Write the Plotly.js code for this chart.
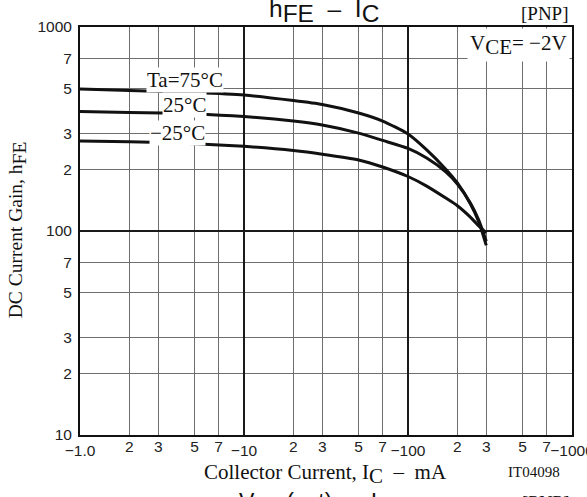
<!DOCTYPE html>
<html>
<head>
<meta charset="utf-8">
<script src="https://cdn.plot.ly/plotly-3.0.1.min.js"></script>
<style>html,body{margin:0;padding:0;background:#fff;}#chart{width:587px;height:497px;}</style>
</head>
<body>
<div id="chart"></div>
<script>
// Collector current (mA, magnitude) sample points
const current = [1, 2, 5, 10, 20, 30, 50, 70, 100, 130, 170, 200, 240, 270, 300];
// DC current gain hFE
const hfe75  = [497, 488, 477, 464, 436, 417, 379, 346, 299, 250, 201, 172, 136, 111, 85];
const hfe25  = [385, 381, 375, 364, 346, 331, 302, 278, 254, 228, 195, 170, 137, 113, 89];
const hfeM25 = [276, 274, 268, 260, 248, 238, 223, 206, 185, 166, 145, 133, 117, 106, 98];
const seriesNames = ['Ta=75°C', '25°C', '−25°C'];

// Axis ticks
const xMinorVals = [2,3,5,7,20,30,50,70,200,300,500,700];
const xMinorText = ['2','3','5','7','2','3','5','7','2','3','5','7'];
const xDecadeVals = [1,10,100,1000];
const xDecadeText = ['−1.0','−10','−100','−1000'];
const yTickVals = [10,20,30,50,70,100,200,300,500,700,1000];
const yTickText = ['10','2','3','5','7','100','2','3','5','7','1000'];
const yDecadeVals = [100];

const SANS = 'Liberation Sans, Arial, sans-serif';
const SERIF = 'Liberation Serif, Times New Roman, serif';
const lineStyle = {color:'#111', width:3, shape:'spline', smoothing:0.6};
const sub = (t, s) => '<sub><span style="font-size:' + s + 'px">' + t + '</span></sub>';

const traces = [
  {x: current, y: hfe75, name: seriesNames[0], mode:'lines', line: lineStyle, xaxis:'x', yaxis:'y', hoverinfo:'skip'},
  {x: current, y: hfe25, name: seriesNames[1], mode:'lines', line: lineStyle, xaxis:'x', yaxis:'y', hoverinfo:'skip'},
  {x: current, y: hfeM25, name: seriesNames[2], mode:'lines', line: lineStyle, xaxis:'x2', yaxis:'y2', hoverinfo:'skip'}
];

const ann = (o) => Object.assign({showarrow:false, xref:'paper', yref:'paper'}, o);

const layout = {
  width: 587, height: 497,
  margin: {l:80, r:15, t:27, b:62, pad:0},
  paper_bgcolor:'#fff', plot_bgcolor:'#fff',
  showlegend:false,
  xaxis: {
    type:'log', range:[0,3], tickmode:'array', tickvals:xMinorVals, ticktext:xMinorText,
    showgrid:true, gridcolor:'#6e6e6e', gridwidth:1, ticks:'', ticklabelstandoff:-4,
    showline:true, mirror:true, linecolor:'#111', linewidth:2, zeroline:false,
    tickfont:{family:SANS, size:15.5, color:'#222'}
  },
  xaxis2: {
    type:'log', range:[0,3], overlaying:'x', anchor:'y2', side:'bottom', tickmode:'array',
    tickvals:xDecadeVals, ticktext:xDecadeText, ticklabeloverflow:'allow',
    showgrid:true, gridcolor:'#1a1a1a', gridwidth:1.5, ticks:'', ticklabelstandoff:4,
    showline:false, zeroline:false,
    tickfont:{family:SANS, size:15.5, color:'#222'}
  },
  yaxis: {
    type:'log', range:[1,3], tickmode:'array', tickvals:yTickVals, ticktext:yTickText,
    showgrid:true, gridcolor:'#6e6e6e', gridwidth:1, ticks:'', ticklabelstandoff:3,
    showline:true, mirror:true, linecolor:'#111', linewidth:2, zeroline:false,
    tickfont:{family:SANS, size:15.5, color:'#222'}
  },
  yaxis2: {
    type:'log', range:[1,3], overlaying:'y', anchor:'x2', side:'left', tickmode:'array',
    tickvals:yDecadeVals, showticklabels:false,
    showgrid:true, gridcolor:'#1a1a1a', gridwidth:1.5, ticks:'', showline:false, zeroline:false
  },
  annotations: [
    ann({x:0.496, y:1.0417, xanchor:'center', yanchor:'middle', yshift:-1,
         text:'h' + sub('FE', 24.5) + '  –  I' + sub('C', 24.5), font:{family:SANS, size:24.5, color:'#111'}}),
    ann({x:0.945, y:1.034, xanchor:'center', yanchor:'middle',
         text:'[PNP]', font:{family:SERIF, size:19, color:'#111'}}),
    ann({x:1, y:1, xanchor:'right', yanchor:'top', xshift:-2, yshift:-1, borderpad:2, bgcolor:'#fff',
         text:'V' + sub('CE', 21) + '= −2V', font:{family:SERIF, size:21, color:'#111'}}),
    ann({x:0.2134, y:0.870, xanchor:'center', yanchor:'middle', bgcolor:'#fff', borderpad:0,
         text:seriesNames[0], font:{family:SERIF, size:21, color:'#111'}}),
    ann({x:0.2134, y:0.809, xanchor:'center', yanchor:'middle', bgcolor:'#fff', borderpad:0,
         text:seriesNames[1], font:{family:SERIF, size:21, color:'#111'}}),
    ann({x:0.199, y:0.740, xanchor:'center', yanchor:'middle', bgcolor:'#fff', borderpad:0,
         text:seriesNames[2], font:{family:SERIF, size:21, color:'#111'}}),
    ann({x:-0.128, y:0.502, xanchor:'center', yanchor:'middle', textangle:-90,
         text:'DC Current Gain, h' + sub('FE', 19.5), font:{family:SERIF, size:19.5, color:'#111'}}),
    ann({x:0.498, y:-0.0956, xanchor:'center', yanchor:'middle',
         text:'Collector Current, I' + sub('C', 21) + '  –  mA', font:{family:SERIF, size:21, color:'#111'}}),
    ann({x:0.923, y:-0.0907, xanchor:'center', yanchor:'middle',
         text:'IT04098', font:{family:SERIF, size:15, color:'#111'}}),
    ann({x:0.319, y:-0.137, xanchor:'left', yanchor:'top', yshift:4,
         text:'V' + sub('CE', 23) + '(sat)  –  I' + sub('C', 23), font:{family:SANS, size:23, color:'#111'}}),
    ann({x:0.894, y:-0.142, xanchor:'left', yanchor:'top', yshift:3,
         text:'[PNP]', font:{family:SERIF, size:19, color:'#111'}})
  ]
};

Plotly.newPlot('chart', traces, layout, {staticPlot:true, displayModeBar:false});
</script>
</body>
</html>
